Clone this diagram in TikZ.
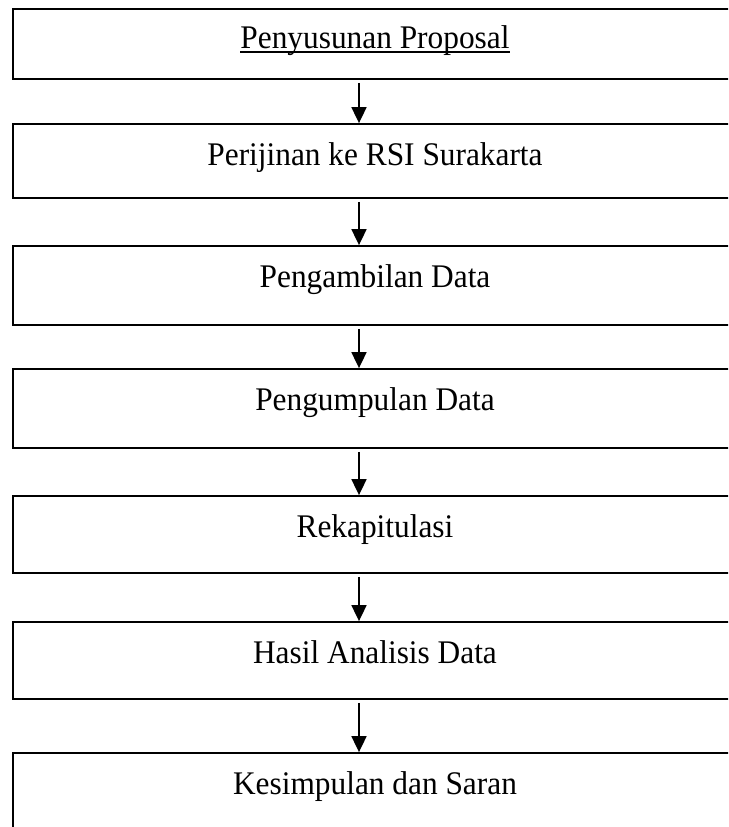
\documentclass[tikz,border=0pt]{standalone}
\usepackage{fontspec}
\setmainfont{Liberation Serif}
\usetikzlibrary{arrows.meta}
\newcommand{\myxs}[1]{\scalebox{0.95}[1]{#1}}
\begin{document}
\begin{tikzpicture}[x=1pt,y=-1pt,
  boxstyle/.style={draw=black, line width=1.8pt, rectangle, minimum width=724pt, inner sep=0pt},
  lbl/.style={font=\fontsize{33}{40}\selectfont, inner sep=0pt, anchor=base},
  arr/.style={line width=1.8pt, -{Triangle[width=15pt,length=16pt]}}]
\useasboundingbox (0,0) rectangle (728,827);
\clip (0,0) rectangle (728,827);
\node[boxstyle, minimum height=70pt] (b1) at (375,44) {};
\node[boxstyle, minimum height=74pt] (b2) at (375,161) {};
\node[boxstyle, minimum height=79pt] (b3) at (375,285.5) {};
\node[boxstyle, minimum height=79pt] (b4) at (375,408.5) {};
\node[boxstyle, minimum height=77pt] (b5) at (375,534.5) {};
\node[boxstyle, minimum height=77pt] (b6) at (375,660.5) {};
\node[boxstyle, minimum height=77pt] (b7) at (375,791.5) {};
\node[lbl] (t1) at (375,48) {\myxs{Penyusunan Proposal}};
\draw[line width=1.5pt] ([yshift=-4pt]t1.base west) -- ([yshift=-4pt]t1.base east);
\node[lbl] (t2) at (375,165) {\myxs{Perijinan ke RSI Surakarta}};
\node[lbl] (t3) at (375,287) {\myxs{Pengambilan Data}};
\node[lbl] (t4) at (375,410) {\myxs{Pengumpulan Data}};
\node[lbl] (t5) at (375,537) {\myxs{Rekapitulasi}};
\node[lbl] (t6) at (375,663) {\myxs{Hasil Analisis Data}};
\node[lbl] (t7) at (375,794) {\myxs{Kesimpulan dan Saran}};
\draw[arr] ([xshift=-16pt,yshift=-3pt]b1.south) -- ([xshift=-16pt]b2.north);
\draw[arr] ([xshift=-16pt,yshift=-3pt]b2.south) -- ([xshift=-16pt]b3.north);
\draw[arr] ([xshift=-16pt,yshift=-3pt]b3.south) -- ([xshift=-16pt]b4.north);
\draw[arr] ([xshift=-16pt,yshift=-3pt]b4.south) -- ([xshift=-16pt]b5.north);
\draw[arr] ([xshift=-16pt,yshift=-3pt]b5.south) -- ([xshift=-16pt]b6.north);
\draw[arr] ([xshift=-16pt,yshift=-3pt]b6.south) -- ([xshift=-16pt]b7.north);
\end{tikzpicture}
\end{document}
